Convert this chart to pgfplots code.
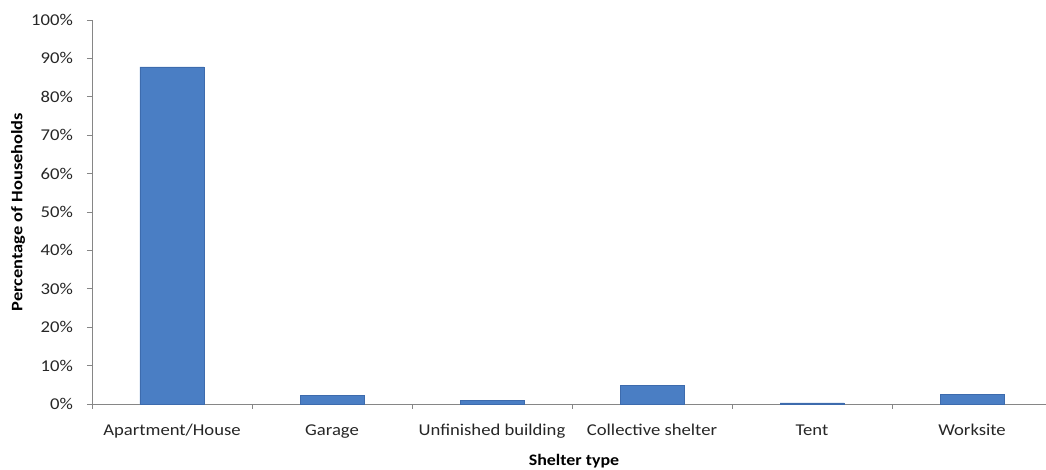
\documentclass[border=0pt]{standalone}
\usepackage{pgfplots}
\pgfplotsset{compat=1.18}
\usepackage{fontspec}
\setmainfont{Carlito}
\definecolor{barblue}{HTML}{4A7EC4}
\definecolor{baredge}{HTML}{3D6BAD}
\definecolor{axisgrey}{HTML}{868686}
\begin{document}
\begin{tikzpicture}
\begin{axis}[
  scale only axis,
  width=954pt, height=384pt,
  xmin=-0.5, xmax=5.4625,
  ymin=0, ymax=100,
  axis x line*=bottom, axis y line*=left,
  axis line style={axisgrey, line width=0.8pt},
  tick align=outside,
  every tick/.style={axisgrey, line width=0.8pt},
  major tick length=5pt,
  minor tick length=5pt,
  ytick={0,10,...,100},
  yticklabel={\pgfmathprintnumber{\tick}\%},
  /pgf/number format/assume math mode=true,
  xtick={0,...,5},
  xticklabels={Apartment/House, Garage, Unfinished building, Collective shelter, Tent, Worksite},
  major x tick style={draw=none},
  minor xtick={-0.5,0.5,...,5.5},
  ticklabel style={font=\fontsize{16.5}{19}\selectfont, text=black!85, xscale=1.13},
  yticklabel style={xshift=-9pt},
  xticklabel style={yshift=-12pt},
  ylabel={\textbf{Percentage of Households}},
  ylabel style={at={(axis description cs:0,0.5)}, anchor=center, yshift=74pt, xscale=1.15, font=\fontsize{16}{19}\selectfont},
  xlabel={\textbf{Shelter type}},
  xlabel style={at={(axis cs:2.5125,0)}, anchor=north, yshift=-47pt, xscale=1.12, font=\fontsize{16}{19}\selectfont},
  ybar, bar width=64pt,
  clip=false,
]
\addplot[fill=barblue, draw=baredge, line width=0.6pt] coordinates {
  (0,87.8) (1,2.2) (2,0.9) (3,4.8) (4,0.3) (5,2.5)
};
\coordinate (bl) at (rel axis cs:0,0);
\coordinate (tr) at (rel axis cs:1,1);
\end{axis}
\pgfresetboundingbox
\path ([shift={(-92pt,-66pt)}]bl) rectangle ([shift={(0pt,20pt)}]tr);
\end{tikzpicture}
\end{document}
